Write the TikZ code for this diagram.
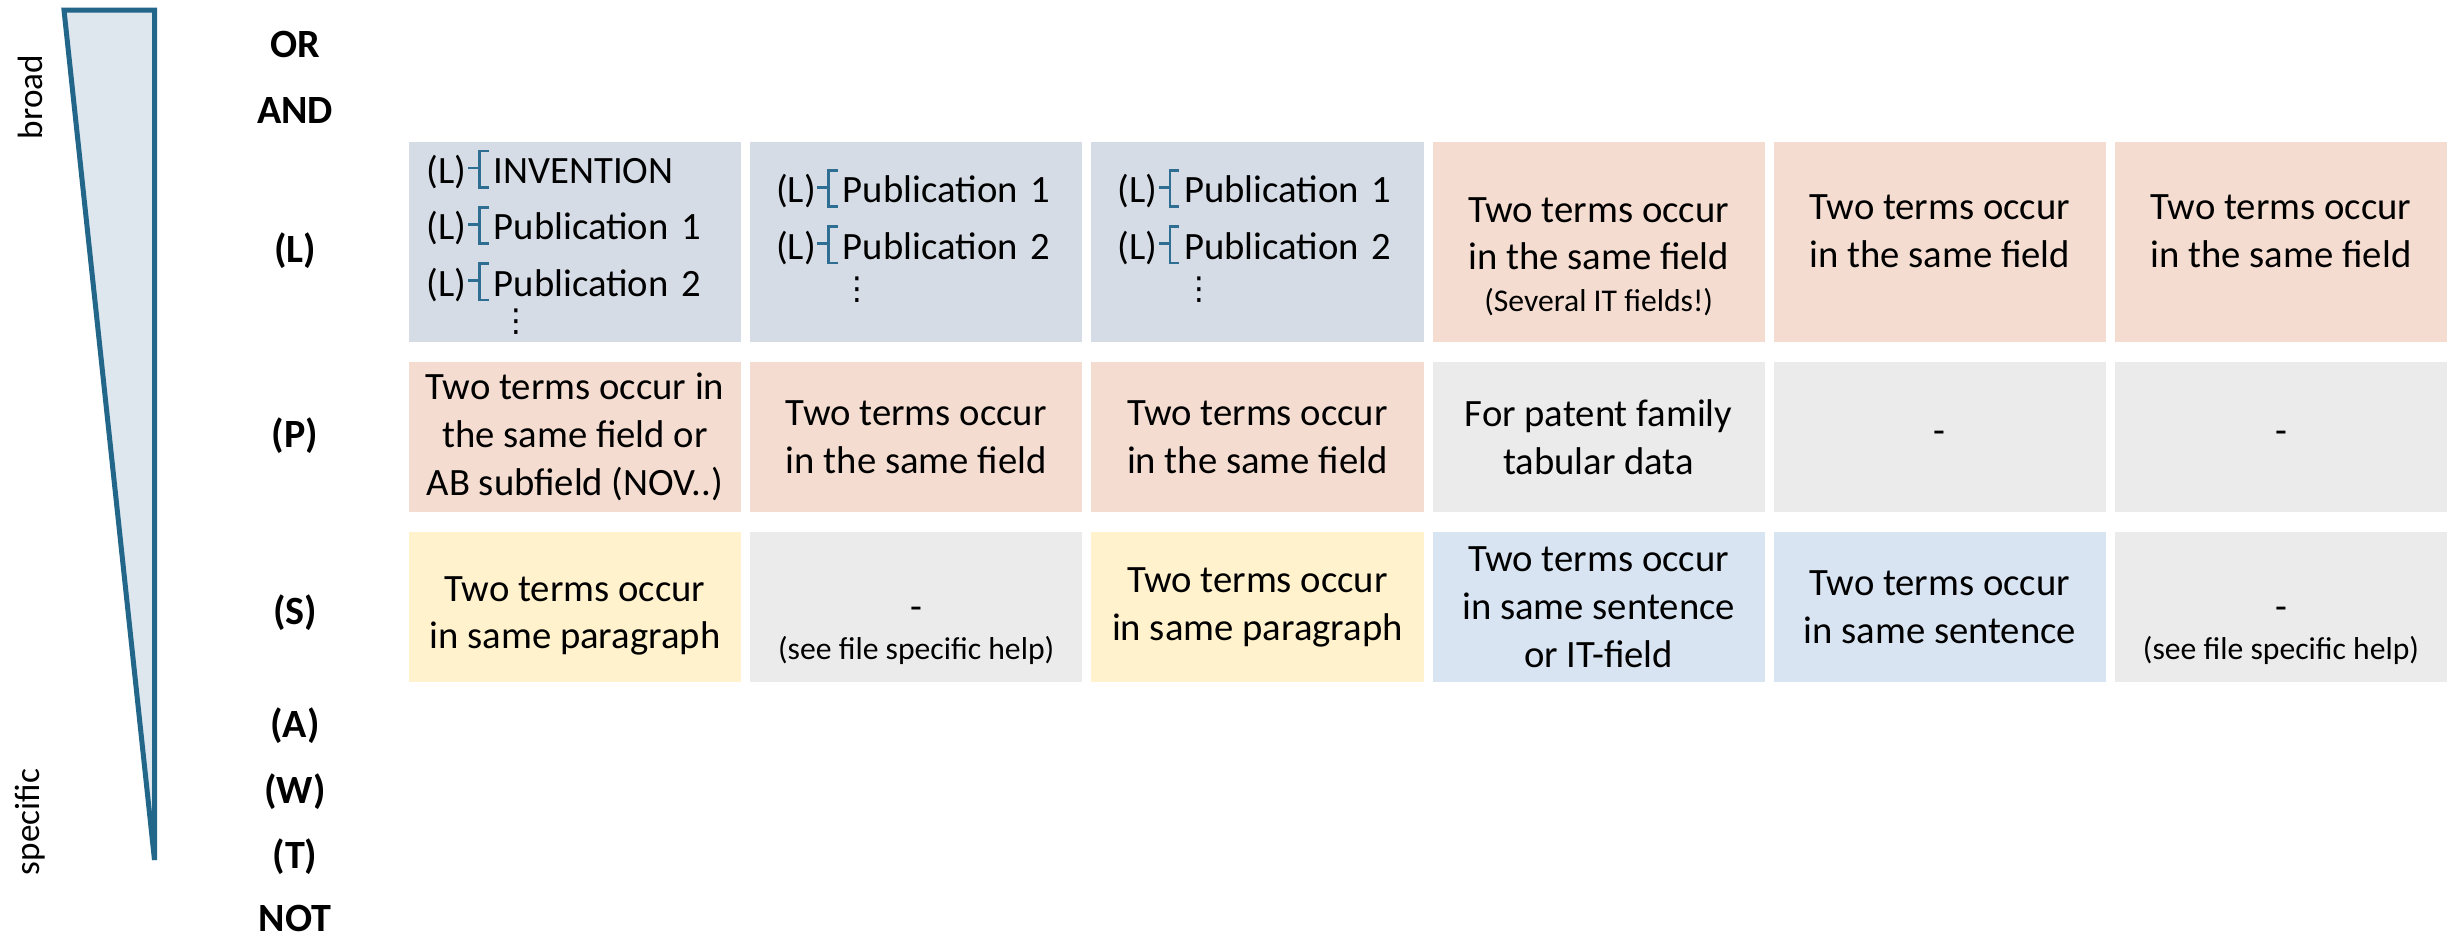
\documentclass[tikz,border=0pt]{standalone}
\usepackage{fontspec}
\setmainfont{Carlito}
\newfontfamily\symfont{DejaVu Sans}
\usepackage{xcolor}
\usepackage{tikz}

\definecolor{tribord}{HTML}{22668A}
\definecolor{trifill}{HTML}{DEE6EE}
\definecolor{brkblue}{HTML}{2E6E92}
\definecolor{cellL}{HTML}{D6DCE5}
\definecolor{cellF}{HTML}{F4DDD0}
\definecolor{cellN}{HTML}{EBEBEB}
\definecolor{cellP}{HTML}{FFF2CC}
\definecolor{cellS}{HTML}{D9E4F3}

\newcommand{\smalltxt}{\fontsize{9}{11}\selectfont}
\newcommand{\patbrk}{\hspace{0.04em}\textcolor{brkblue}{\rule[0.37em]{0.26em}{0.07em}\rule[-0.13em]{0.07em}{1.01em}\rlap{\rule[-0.13em]{0.2em}{0.07em}}\rule[0.81em]{0.2em}{0.07em}}\hspace{0.13em}}
\newcommand{\patline}[1]{(L)\patbrk #1}
\newcommand{\vdotsm}{{\symfont\fontsize{9}{9}\selectfont ⋮}}

\begin{document}
\begin{tikzpicture}[x=0.01cm, y=-0.01cm, node distance=3.41cm]
		\useasboundingbox (0,0) rectangle (2458,936);

		% Define the styles
		\tikzstyle{cell}=[rectangle, minimum width=3.32cm, minimum height=1.5cm, inner sep=2pt, align=center, font=\fontsize{11}{13.6}\selectfont]
		\tikzstyle{tall}=[minimum height=2cm]
		\tikzstyle{lcell}=[cell, tall, fill=cellL, align=left, font=\fontsize{11}{16}\selectfont]
		\tikzstyle{rowlab}=[font=\fontsize{11.4}{13}\selectfont\bfseries, anchor=base]
		\tikzstyle{sidelab}=[font=\fontsize{10}{12}\selectfont, rotate=90]

		% Wedge from broad to specific
		\draw[draw=tribord, fill=trifill, line width=0.05cm, line join=miter] (64,10) -- (154.5,10) -- (154.5,860) -- cycle;
		\node (broad) [sidelab] at (30,97) {broad};
		\node (specific) [sidelab] at (30,822) {specific};

		% Operators
		\foreach \lab/\yy/\nm in {OR/57/or, AND/123/and, {(L)}/262/l, {(P)}/447/p, {(S)}/624/s, {(A)}/737/a, {(W)}/803/w, {(T)}/868/t, NOT/931/not}
			\node (op-\nm) [rowlab] at (295,\yy) {\lab};

		% Row (L)
		\node (c11) [lcell, inner xsep=0.18cm, text width=2.96cm] at (575,242) {\patline{INVENTION}\\\patline{Publication 1}\\\patline{Publication 2}\\[-6pt]\hspace*{1.9em}\vdotsm};
		\node (c12) [lcell, inner xsep=0.26cm, text width=2.8cm, right of=c11] {\patline{Publication 1}\\\patline{Publication 2}\\[-4.6pt]\hspace*{1.7em}\vdotsm\rule[-4.5pt]{0pt}{4.5pt}};
		\node (c13) [lcell, inner xsep=0.26cm, text width=2.8cm, right of=c12] {\patline{Publication 1}\\\patline{Publication 2}\\[-4.6pt]\hspace*{1.7em}\vdotsm\rule[-4.5pt]{0pt}{4.5pt}};
		\node (c14) [cell, tall, fill=cellF, right of=c13] {\rule{0pt}{15.4pt}Two terms occur\\in the same field\\[-1.7pt]{\smalltxt (Several IT fields!)}};
		\node (c15) [cell, tall, fill=cellF, right of=c14] {Two terms occur\\in the same field\rule[-6.2pt]{0pt}{6.2pt}};
		\node (c16) [cell, tall, fill=cellF, right of=c15] {Two terms occur\\in the same field\rule[-6.2pt]{0pt}{6.2pt}};

		% Row (P)
		\node (c21) [cell, fill=cellF, node distance=1.95cm, below of=c11] {Two terms occur in\\the same field or\\AB subfield (NOV..)};
		\node (c22) [cell, fill=cellF, right of=c21] {Two terms occur\\in the same field};
		\node (c23) [cell, fill=cellF, right of=c22] {Two terms occur\\in the same field};
		\node (c24) [cell, fill=cellN, right of=c23] {For patent family\\tabular data};
		\node (c25) [cell, fill=cellN, right of=c24] {-};
		\node (c26) [cell, fill=cellN, right of=c25] {-};

		% Row (S)
		\node (c31) [cell, fill=cellP, node distance=1.7cm, below of=c21] {\rule{0pt}{12pt}Two terms occur\\in same paragraph};
		\node (c32) [cell, fill=cellN, right of=c31] {\rule{0pt}{20pt}-\\[-2.2pt]{\smalltxt (see file specific help)}};
		\node (c33) [cell, fill=cellP, right of=c32] {Two terms occur\\in same paragraph};
		\node (c34) [cell, fill=cellS, right of=c33] {Two terms occur\\in same sentence\\or IT-field};
		\node (c35) [cell, fill=cellS, right of=c34] {Two terms occur\\in same sentence};
		\node (c36) [cell, fill=cellN, right of=c35] {\rule{0pt}{20pt}-\\[-2.2pt]{\smalltxt (see file specific help)}};
	\end{tikzpicture}
\end{document}
